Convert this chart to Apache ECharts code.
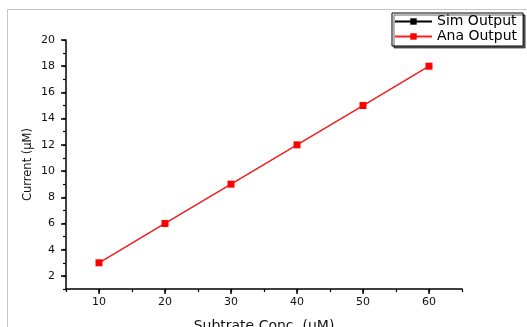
<!DOCTYPE html>
<html>
<head>
<meta charset="utf-8">
<script src="https://cdn.jsdelivr.net/npm/echarts@6/dist/echarts.min.js"></script>
<style>html,body{margin:0;padding:0;background:#fff;}#c{width:527px;height:327px;}</style>
</head>
<body>
<div id="c"></div>
<script>
var concentration = [10, 20, 30, 40, 50, 60];
var simOutput = [3, 6, 9, 12, 15, 18];
var anaOutput = [3, 6, 9, 12, 15, 18];
var xTickLabels = [10, 20, 30, 40, 50, 60];
var yTickLabels = [2, 4, 6, 8, 10, 12, 14, 16, 18, 20];

var font = 'DejaVu Sans, Arial, sans-serif';
var chart = echarts.init(document.getElementById('c'));
function pairs(xs, ys){ return xs.map(function(x,i){ return [x, ys[i]]; }); }
chart.setOption({
  animation: false,
  backgroundColor: '#fff',
  grid: { left: 66, right: 65, top: 40, bottom: 38, containLabel: false, outerBoundsMode: 'none' },
  graphic: [
    { type: 'line', shape: { x1: 7, y1: 9.5, x2: 527, y2: 9.5 }, style: { stroke: '#c8c8c8', lineWidth: 1 } },
    { type: 'line', shape: { x1: 7.5, y1: 9, x2: 7.5, y2: 327 }, style: { stroke: '#c8c8c8', lineWidth: 1 } }
  ],
  legend: {
    orient: 'vertical', left: 392, top: 13,
    padding: [1, 6, 2, 2], itemGap: 0,
    itemWidth: 37, itemHeight: 8,
    borderColor: '#000', borderWidth: 1,
    shadowColor: 'rgba(0,0,0,0.6)', shadowOffsetX: 2, shadowOffsetY: 2, shadowBlur: 0,
    backgroundColor: '#fff',
    textStyle: { fontFamily: font, fontSize: 14, lineHeight: 15, color: '#000' },
    data: ['Sim Output', 'Ana Output']
  },
  xAxis: [{
    type: 'value', min: 5, max: 65, interval: 5,
    name: 'Subtrate Conc. (µM)', nameLocation: 'middle', nameGap: 30, nameMoveOverlap: false,
    nameTextStyle: { fontFamily: font, fontSize: 14, color: '#111' },
    axisLine: { show: true, onZero: false, lineStyle: { color: '#000', width: 1.5 } },
    axisTick: { show: true, customValues: xTickLabels, length: 5, lineStyle: { color: '#000', width: 1.5 } },
    axisLabel: { customValues: xTickLabels, margin: 8, fontFamily: font, fontSize: 11, color: '#111' },
    splitLine: { show: false }
  }, {
    type: 'value', min: 5, max: 65, interval: 5, position: 'bottom',
    axisLine: { show: false },
    axisTick: { show: true, length: 3, lineStyle: { color: '#000', width: 1.2 } },
    axisLabel: { show: false }, splitLine: { show: false }
  }],
  yAxis: [{
    type: 'value', min: 1, max: 20, interval: 1,
    name: 'Current (µM)', nameLocation: 'middle', nameGap: 32, nameMoveOverlap: false,
    nameTextStyle: { fontFamily: font, fontSize: 11.5, color: '#111' },
    axisLine: { show: true, onZero: false, lineStyle: { color: '#000', width: 1.5 } },
    axisTick: { show: true, customValues: yTickLabels, length: 5, lineStyle: { color: '#000', width: 1.5 } },
    axisLabel: { customValues: yTickLabels, margin: 11, fontFamily: font, fontSize: 11, color: '#111' },
    splitLine: { show: false }
  }, {
    type: 'value', min: 1, max: 20, interval: 1, position: 'left',
    axisLine: { show: false },
    axisTick: { show: true, length: 3, lineStyle: { color: '#000', width: 1.2 } },
    axisLabel: { show: false }, splitLine: { show: false }
  }],
  series: [{
    name: 'Sim Output', type: 'line', data: pairs(concentration, simOutput),
    symbol: 'rect', symbolSize: 5,
    lineStyle: { color: '#000', width: 0.6 }, itemStyle: { color: '#000' }
  }, {
    name: 'Ana Output', type: 'line', data: pairs(concentration, anaOutput),
    symbol: 'rect', symbolSize: 7,
    lineStyle: { color: '#ff2020', width: 1.4 }, itemStyle: { color: '#ff0000' }
  }]
});
</script>
</body>
</html>
